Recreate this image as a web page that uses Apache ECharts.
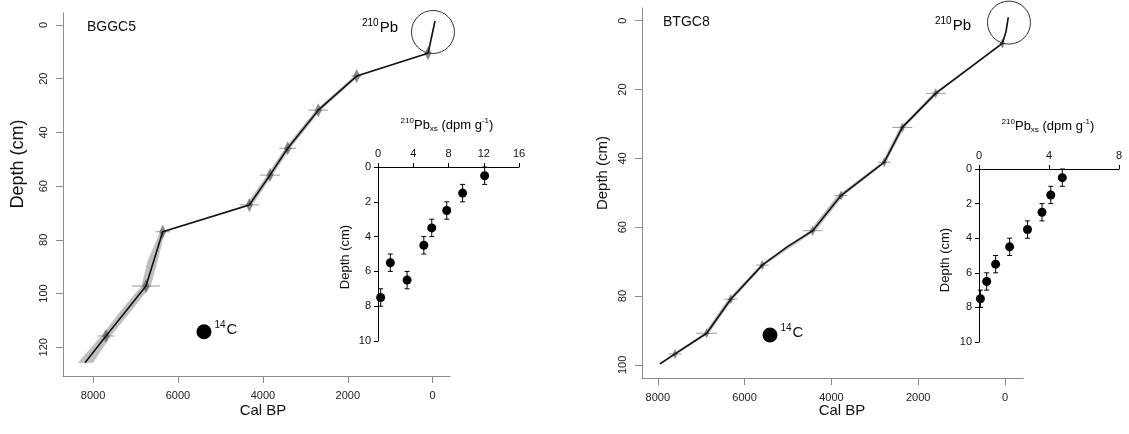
<!DOCTYPE html>
<html><head><meta charset="utf-8">
<script src="https://cdn.jsdelivr.net/npm/echarts@6/dist/echarts.min.js"></script>
<style>html,body{margin:0;padding:0;background:#fff}#c{width:1129px;height:434px}</style>
</head><body><div id="c"></div>
<script>
// ---------- BGGC5 (left) age-depth model ----------
const bggc5Age   = [-55, 20, 60, 110, 1790, 2695, 3416, 3833, 4320, 6360, 6754, 7696, 8191];
const bggc5Depth = [-1.5, 4, 7, 10.5, 19.0, 31.7, 45.9, 55.9, 67.0, 77.0, 97.2, 115.8, 125.8];
const bggc5EnvDepth = [-1.5, 4, 7, 10.5, 19, 31.7, 45.9, 55.9, 67, 77, 88, 97.2, 106, 115.8, 125.8];
const bggc5EnvYoung = [-65, 5, 45, 90, 1740, 2640, 3350, 3770, 4250, 6310, 6480, 6640, 7080, 7580, 8000];
const bggc5EnvOld   = [-45, 35, 80, 135, 1850, 2760, 3480, 3900, 4400, 6420, 6720, 6860, 7330, 7810, 8360];
const bggc5DateAge   = [110, 1790, 2695, 3416, 3833, 4320, 6360, 6754, 7696];
const bggc5DateDepth = [10.5, 19.0, 31.7, 45.9, 55.9, 67.0, 77.0, 97.2, 115.8];
const bggc5DateErr   = [60, 120, 230, 200, 230, 230, 170, 330, 200];

// ---------- BTGC8 (right) age-depth model ----------
const btgc8Age   = [-76, -23, 62, 1597, 2366, 2781, 3779, 4431, 5030, 5592, 6320, 6873, 7604, 7949];
const btgc8Depth = [-1, 3.2, 6.6, 21.1, 31.0, 41.1, 50.8, 61.0, 65.8, 71.0, 80.9, 90.8, 96.8, 99.7];
const btgc8EnvDepth = [-1, 3.2, 6.6, 21.1, 31, 41.1, 50.8, 61, 71, 80.9, 90.8, 96.8, 99.7];
const btgc8EnvYoung = [-85, -35, 40, 1550, 2320, 2740, 3720, 4360, 5550, 6270, 6820, 7560, 7920];
const btgc8EnvOld   = [-65, -10, 85, 1650, 2420, 2830, 3860, 4500, 5640, 6380, 6930, 7650, 7990];
const btgc8DateAge   = [62, 1597, 2366, 2781, 3779, 4431, 5592, 6320, 6873, 7604];
const btgc8DateDepth = [6.6, 21.1, 31.0, 41.1, 50.8, 61.0, 71.0, 80.9, 90.8, 96.8];
const btgc8DateErr   = [60, 230, 230, 150, 150, 230, 150, 150, 240, 150];

// ---------- 210Pb excess profiles (insets) ----------
const pbDepth = [0.5, 1.5, 2.5, 3.5, 4.5, 5.5, 6.5, 7.5];
const pbDepthErr = [0.5, 0.5, 0.5, 0.5, 0.5, 0.5, 0.5, 0.5];
const bggc5Pb = [12.1, 9.6, 7.8, 6.1, 5.2, 1.4, 3.3, 0.3];
const btgc8Pb = [4.76, 4.1, 3.6, 2.77, 1.75, 0.95, 0.44, 0.08];

// ---------- axis ticks ----------
const ageTicks = [0, 2000, 4000, 6000, 8000];
const bggc5DepthTicks = [0, 20, 40, 60, 80, 100, 120];
const btgc8DepthTicks = [0, 20, 40, 60, 80, 100];

// annotation anchors (data coordinates)
const bggc5PbCircle = [-7, 2.6];
const btgc8PbCircle = [-92, 0.55];
const bggc5C14Key = [5388, 114.2];
const btgc8C14Key = [5415, 91.3];

const FONT = 'Liberation Sans, Arial, sans-serif';
const chart = echarts.init(document.getElementById('c'), null, {renderer: 'canvas'});

function zip(a, b) { return a.map((v, i) => [v, b[i]]); }
const plain = v => String(v);

function envRender(young, old, depth) {
  return function (params, api) {
    const pts = [];
    for (let i = 0; i < depth.length; i++) pts.push(api.coord([young[i], depth[i]]));
    for (let i = depth.length - 1; i >= 0; i--) pts.push(api.coord([old[i], depth[i]]));
    return {type: 'polygon', shape: {points: pts}, style: {fill: '#b4b4b4', opacity: 0.85}};
  };
}
function crossRender(vh, dw) {
  return function (params, api) {
    const a = api.value(0), d = api.value(1), e = api.value(2);
    const c = api.coord([a, d]);
    const l = api.coord([a + e, d]), r = api.coord([a - e, d]);
    return {type: 'group', children: [
      {type: 'line', shape: {x1: l[0], y1: c[1], x2: r[0], y2: c[1]}, style: {stroke: 'rgba(120,120,120,0.75)', lineWidth: 1}},
      {type: 'polygon', shape: {points: [[c[0], c[1] - vh], [c[0] + dw, c[1]], [c[0], c[1] + vh], [c[0] - dw, c[1]]]},
       style: {fill: 'rgba(90,90,90,0.7)'}}
    ]};
  };
}
function errRender(params, api) {
  const x = api.value(0), d = api.value(1), e = api.value(2);
  const p1 = api.coord([x, d - e]), p2 = api.coord([x, d + e]);
  const cap = 2.5;
  const st = {stroke: '#000', lineWidth: 1};
  return {type: 'group', children: [
    {type: 'line', shape: {x1: p1[0], y1: p1[1], x2: p2[0], y2: p2[1]}, style: st},
    {type: 'line', shape: {x1: p1[0] - cap, y1: p1[1], x2: p1[0] + cap, y2: p1[1]}, style: st},
    {type: 'line', shape: {x1: p2[0] - cap, y1: p2[1], x2: p2[0] + cap, y2: p2[1]}, style: st}
  ]};
}

function mainX(grid, min, max) {
  return {gridIndex: grid, type: 'value', inverse: true, min: min, max: max,
    axisLine: {show: true, onZero: false, lineStyle: {color: '#8c8c8c'}},
    axisTick: {show: true, length: 7, customValues: ageTicks, lineStyle: {color: '#8c8c8c'}},
    axisLabel: {customValues: ageTicks, formatter: plain, fontFamily: FONT, fontSize: 11, color: '#222', margin: 14},
    splitLine: {show: false}};
}
function mainY(grid, min, max, ticks) {
  return {gridIndex: grid, type: 'value', inverse: true, min: min, max: max,
    axisLine: {show: true, onZero: false, lineStyle: {color: '#8c8c8c'}},
    axisTick: {show: true, length: 7, customValues: ticks, lineStyle: {color: '#8c8c8c'}},
    axisLabel: {customValues: ticks, formatter: plain, rotate: 90, fontFamily: FONT, fontSize: 11, color: '#222', margin: 14},
    splitLine: {show: false}};
}
function insetX(grid, max, step) {
  return {gridIndex: grid, type: 'value', position: 'top', min: 0, max: max, interval: step,
    axisLine: {show: true, onZero: false, lineStyle: {color: '#000'}},
    axisTick: {show: true, length: 4, lineStyle: {color: '#000'}},
    axisLabel: {formatter: plain, fontFamily: FONT, fontSize: 11, color: '#111', margin: 8},
    splitLine: {show: false}};
}
function insetY(grid) {
  return {gridIndex: grid, type: 'value', inverse: true, min: 0, max: 10, interval: 2,
    axisLine: {show: true, onZero: false, lineStyle: {color: '#000'}},
    axisTick: {show: true, length: 4, lineStyle: {color: '#000'}},
    axisLabel: {formatter: plain, fontFamily: FONT, fontSize: 11, color: '#111', margin: 7},
    splitLine: {show: false}};
}

const supRich = {
  n: {fontFamily: FONT, fontSize: 15, color: '#111'},
  s: {fontFamily: FONT, fontSize: 10, color: '#111', padding: [0, 1, 9, 0]}
};
const titleRich = {
  n: {fontFamily: FONT, fontSize: 13, color: '#111'},
  s: {fontFamily: FONT, fontSize: 8, color: '#111', padding: [0, 0, 8, 0]},
  b: {fontFamily: FONT, fontSize: 8, color: '#111', padding: [8, 0, 0, 0]}
};

function c14Series(xi, yi, pt) {
  return {type: 'scatter', xAxisIndex: xi, yAxisIndex: yi, data: [pt], symbolSize: 15,
    itemStyle: {color: '#000', opacity: 1}, z: 5, silent: true,
    label: {show: true, position: 'right', distance: 3, formatter: '{s|14}{n|C}', rich: supRich, offset: [0, -2]}};
}
function circleSeries(xi, yi, pt) {
  return {type: 'scatter', xAxisIndex: xi, yAxisIndex: yi, data: [pt], symbolSize: 43, clip: false,
    itemStyle: {color: 'rgba(0,0,0,0)', borderColor: '#333', borderWidth: 1, opacity: 1}, z: 6, silent: true};
}

const option = {
  backgroundColor: '#fff',
  animation: false,
  grid: [
    {left: 63, top: 13, width: 387, height: 363},
    {left: 642, top: 8, width: 381, height: 370},
    {left: 378, top: 167, width: 141, height: 174},
    {left: 979, top: 169, width: 140, height: 173}
  ],
  xAxis: [
    mainX(0, -408, 8709),
    mainX(1, -415, 8364),
    insetX(2, 16, 4),
    insetX(3, 8, 4)
  ],
  yAxis: [
    mainY(0, -4.47, 130.7, bggc5DepthTicks),
    mainY(1, -3.69, 103.8, btgc8DepthTicks),
    insetY(2),
    insetY(3)
  ],
  series: [
    {type: 'custom', xAxisIndex: 0, yAxisIndex: 0, data: [0], renderItem: envRender(bggc5EnvYoung, bggc5EnvOld, bggc5EnvDepth), clip: true, z: 1, silent: true},
    {type: 'custom', xAxisIndex: 0, yAxisIndex: 0, data: bggc5DateAge.map((a, i) => [a, bggc5DateDepth[i], bggc5DateErr[i]]), renderItem: crossRender(7, 3.5), z: 2, silent: true},
    {type: 'line', xAxisIndex: 0, yAxisIndex: 0, data: zip(bggc5Age, bggc5Depth), symbol: 'none', lineStyle: {color: '#111', width: 1.6}, z: 3, silent: true},
    circleSeries(0, 0, bggc5PbCircle),
    c14Series(0, 0, bggc5C14Key),

    {type: 'custom', xAxisIndex: 1, yAxisIndex: 1, data: [0], renderItem: envRender(btgc8EnvYoung, btgc8EnvOld, btgc8EnvDepth), clip: true, z: 1, silent: true},
    {type: 'custom', xAxisIndex: 1, yAxisIndex: 1, data: btgc8DateAge.map((a, i) => [a, btgc8DateDepth[i], btgc8DateErr[i]]), renderItem: crossRender(5, 2.5), z: 2, silent: true},
    {type: 'line', xAxisIndex: 1, yAxisIndex: 1, data: zip(btgc8Age, btgc8Depth), symbol: 'none', lineStyle: {color: '#111', width: 1.6}, z: 3, silent: true},
    circleSeries(1, 1, btgc8PbCircle),
    c14Series(1, 1, btgc8C14Key),

    {type: 'custom', xAxisIndex: 2, yAxisIndex: 2, data: bggc5Pb.map((v, i) => [v, pbDepth[i], pbDepthErr[i]]), renderItem: errRender, clip: false, z: 2, silent: true},
    {type: 'scatter', xAxisIndex: 2, yAxisIndex: 2, data: zip(bggc5Pb, pbDepth), symbolSize: 9, itemStyle: {color: '#000', opacity: 1}, z: 3, silent: true},
    {type: 'custom', xAxisIndex: 3, yAxisIndex: 3, data: btgc8Pb.map((v, i) => [v, pbDepth[i], pbDepthErr[i]]), renderItem: errRender, clip: false, z: 2, silent: true},
    {type: 'scatter', xAxisIndex: 3, yAxisIndex: 3, data: zip(btgc8Pb, pbDepth), symbolSize: 9, itemStyle: {color: '#000', opacity: 1}, z: 3, silent: true}
  ],
  graphic: [
    {type: 'text', left: 87, top: 20, style: {text: 'BGGC5', font: '14px ' + FONT, fill: '#111'}},
    {type: 'text', left: 663, top: 15, style: {text: 'BTGC8', font: '14px ' + FONT, fill: '#111'}},
    {type: 'text', x: 263, y: 411, style: {text: 'Cal BP', font: '15px ' + FONT, fill: '#111', align: 'center', verticalAlign: 'middle'}},
    {type: 'text', x: 842, y: 411, style: {text: 'Cal BP', font: '15px ' + FONT, fill: '#111', align: 'center', verticalAlign: 'middle'}},
    {type: 'text', x: 18, y: 164, rotation: Math.PI / 2, style: {text: 'Depth (cm)', font: '18px ' + FONT, fill: '#111', align: 'center', verticalAlign: 'middle'}},
    {type: 'text', x: 603, y: 173, rotation: Math.PI / 2, style: {text: 'Depth (cm)', font: '15px ' + FONT, fill: '#111', align: 'center', verticalAlign: 'middle'}},
    {type: 'text', x: 345, y: 257, rotation: Math.PI / 2, style: {text: 'Depth (cm)', font: '13px ' + FONT, fill: '#111', align: 'center', verticalAlign: 'middle'}},
    {type: 'text', x: 945, y: 260, rotation: Math.PI / 2, style: {text: 'Depth (cm)', font: '13px ' + FONT, fill: '#111', align: 'center', verticalAlign: 'middle'}},
    {type: 'text', x: 362, y: 28, style: {text: '{s|210}{n|Pb}', rich: supRich, verticalAlign: 'middle'}},
    {type: 'text', x: 935, y: 26, style: {text: '{s|210}{n|Pb}', rich: supRich, verticalAlign: 'middle'}},
    {type: 'text', x: 447, y: 125, style: {text: '{s|210}{n|Pb}{b|xs}{n| (dpm g}{s|-1}{n|)}', rich: titleRich, align: 'center', verticalAlign: 'middle'}},
    {type: 'text', x: 1048, y: 126, style: {text: '{s|210}{n|Pb}{b|xs}{n| (dpm g}{s|-1}{n|)}', rich: titleRich, align: 'center', verticalAlign: 'middle'}}
  ]
};
chart.setOption(option);
</script>
</body></html>
